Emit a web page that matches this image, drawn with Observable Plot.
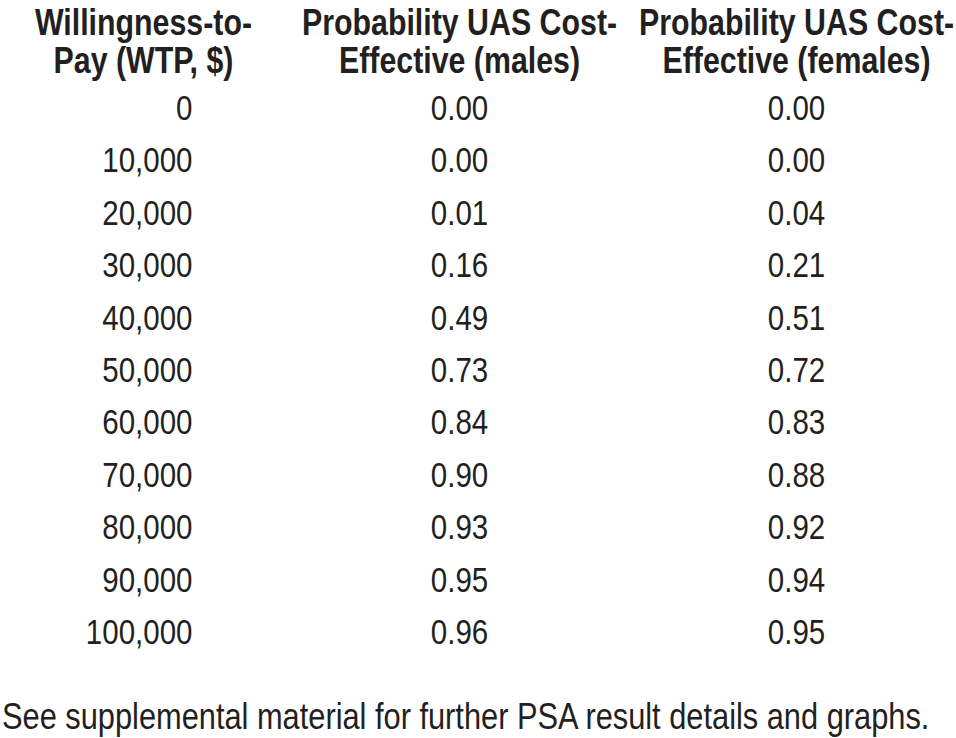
<!DOCTYPE html>
<html>
<head>
<meta charset="utf-8">
<script src="https://cdn.jsdelivr.net/npm/d3@7"></script>
<script src="https://cdn.jsdelivr.net/npm/@observablehq/plot@0.6"></script>
<style>
  html, body { margin: 0; padding: 0; background: #fff; overflow: hidden; }
  #chart { width: 956px; }
  .foot {
    font-family: "Liberation Sans", Arial, sans-serif;
    font-size: 36px; line-height: 40px; color: #231f20;
    margin-top: 17px; margin-left: 2px; white-space: nowrap;
    transform: scaleX(0.855); transform-origin: left center;
  }
</style>
</head>
<body>
<div id="chart"></div>
<script>
// ---- data ----
const wtp = [0, 10000, 20000, 30000, 40000, 50000, 60000, 70000, 80000, 90000, 100000];
const probMales = [0.00, 0.00, 0.01, 0.16, 0.49, 0.73, 0.84, 0.90, 0.93, 0.95, 0.96];
const probFemales = [0.00, 0.00, 0.04, 0.21, 0.51, 0.72, 0.83, 0.88, 0.92, 0.94, 0.95];
const columnHeaders = [
  "Willingness-to-\nPay (WTP, $)",
  "Probability UAS Cost-\nEffective (males)",
  "Probability UAS Cost-\nEffective (females)"
];
const footnote = "See supplemental material for further PSA result details and graphs.";

// ---- table built from the arrays ----
const headerRows = columnHeaders.map((text, col) => ({col, text}));
const wtpCells = wtp.map(v => ({col: 0, wtp: v, text: d3.format(",")(v)}));
const probCells = wtp.flatMap((v, i) => [
  {col: 1, wtp: v, text: probMales[i].toFixed(2)},
  {col: 2, wtp: v, text: probFemales[i].toFixed(2)}
]);

const ink = "#231f20";
const font = '"Liberation Sans", Arial, sans-serif';
const narrow = 0.82; // condensed typeface look

const plot = Plot.plot({
  width: 956,
  height: 680,
  margin: 0,
  style: {fontFamily: font, color: ink, background: "#fff"},
  x: {type: "linear", domain: [0, 1, 2], range: [143, 459, 796], axis: null},
  y: {type: "linear", domain: [0, 100000], range: [108, 632], axis: null},
  marks: [
    Plot.text(headerRows, {
      x: "col", text: "text", frameAnchor: "top", lineAnchor: "top",
      dy: 7, lineHeight: 1.03, fontSize: 37, fontWeight: "bold", fill: ink
    }),
    Plot.text(wtpCells, {
      x: "col", y: "wtp", text: "text", textAnchor: "end", dx: 49,
      fontSize: 36, fill: ink
    }),
    Plot.text(probCells, {
      x: "col", y: "wtp", text: "text", fontSize: 36, fill: ink
    })
  ]
});
// condense glyphs horizontally around each text's own anchor
plot.querySelectorAll("text").forEach(t => {
  const tr = t.getAttribute("transform") || "";
  t.setAttribute("transform", (tr + ` scale(${narrow},1)`).trim());
});
document.getElementById("chart").append(plot);
const foot = document.createElement("div");
foot.className = "foot";
foot.textContent = footnote;
document.body.append(foot);
</script>
</body>
</html>
